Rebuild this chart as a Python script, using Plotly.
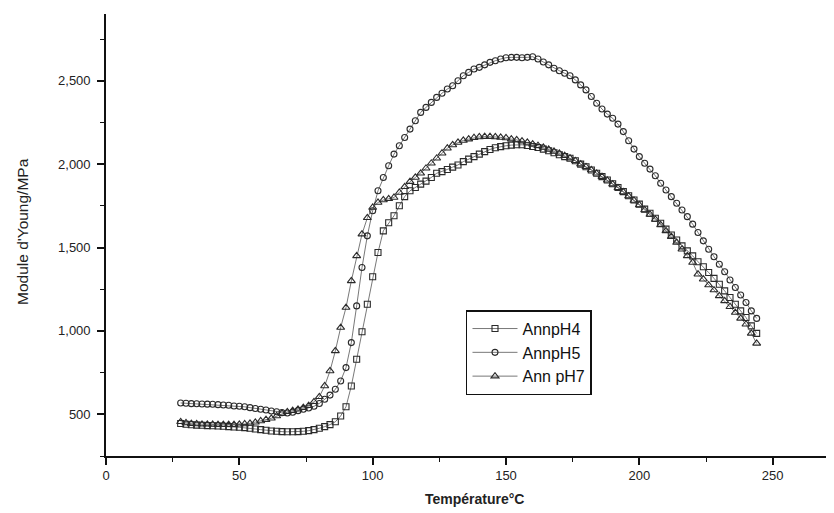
import plotly.graph_objects as go

temperature = [28, 30, 32, 34, 36, 38, 40, 42, 44, 46, 48, 50, 52, 54, 56, 58, 60, 62, 64, 66,
               68, 70, 72, 74, 76, 78, 80, 82, 84, 86, 88, 90, 92, 94, 96, 98, 100, 102, 104, 106,
               108, 110, 112, 114, 116, 118, 120, 122, 124, 126, 128, 130, 132, 134, 136, 138, 140, 142, 144, 146,
               148, 150, 152, 154, 156, 158, 160, 162, 164, 166, 168, 170, 172, 174, 176, 178, 180, 182, 184, 186,
               188, 190, 192, 194, 196, 198, 200, 202, 204, 206, 208, 210, 212, 214, 216, 218, 220, 222, 224, 226,
               228, 230, 232, 234, 236, 238, 240, 242, 244]

ann_ph4 = [445, 440, 437, 435, 434, 432, 431, 430, 428, 426, 424, 422, 420, 416, 412, 408, 404, 400, 398, 396,
           395, 395, 396, 398, 402, 408, 416, 426, 438, 455, 490, 545, 670, 830, 995, 1160, 1325, 1470, 1600, 1648,
           1690, 1750, 1805, 1840, 1860, 1880, 1898, 1920, 1945, 1955, 1968, 1982, 1995, 2015, 2030, 2045, 2060, 2075, 2088, 2098,
           2105, 2110, 2114, 2116, 2116, 2112, 2106, 2100, 2090, 2080, 2068, 2056, 2045, 2035, 2020, 2000, 1984, 1965, 1945, 1925,
           1905, 1882, 1860, 1835, 1810, 1785, 1760, 1730, 1705, 1675, 1645, 1610, 1575, 1545, 1510, 1480, 1450, 1415, 1385, 1350,
           1315, 1280, 1240, 1200, 1160, 1120, 1080, 1030, 985]

ann_ph5 = [568, 566, 564, 563, 562, 561, 560, 558, 556, 554, 550, 548, 545, 540, 535, 530, 526, 520, 515, 510,
           508, 512, 522, 530, 538, 548, 565, 590, 615, 650, 700, 780, 930, 1150, 1380, 1570, 1720, 1840, 1920, 1990,
           2060, 2110, 2160, 2210, 2260, 2310, 2340, 2370, 2400, 2425, 2450, 2470, 2500, 2530, 2550, 2570, 2580, 2595, 2610, 2620,
           2630, 2638, 2640, 2640, 2638, 2640, 2644, 2630, 2612, 2595, 2575, 2560, 2545, 2530, 2505, 2475, 2445, 2405, 2365, 2330,
           2300, 2275, 2240, 2195, 2140, 2090, 2045, 2005, 1970, 1930, 1885, 1845, 1805, 1765, 1725, 1685, 1640, 1590, 1540, 1490,
           1445, 1400, 1355, 1305, 1260, 1215, 1170, 1120, 1075]

ann_ph7 = [455, 448, 444, 442, 440, 440, 439, 438, 438, 438, 438, 440, 442, 446, 452, 460, 468, 476, 490, 505,
           515, 522, 530, 540, 552, 575, 605, 670, 760, 880, 1020, 1140, 1300, 1450, 1580, 1678, 1740, 1770, 1785, 1792,
           1800, 1830, 1864, 1895, 1920, 1945, 1975, 2005, 2035, 2065, 2095, 2115, 2130, 2142, 2150, 2158, 2163, 2165, 2165, 2163,
           2160, 2157, 2150, 2145, 2138, 2130, 2120, 2110, 2100, 2088, 2076, 2064, 2050, 2036, 2020, 2000, 1984, 1965, 1945, 1925,
           1903, 1880, 1858, 1833, 1808, 1782, 1755, 1725, 1698, 1668, 1636, 1600, 1565, 1530, 1490, 1450, 1410, 1340, 1310, 1275,
           1245, 1210, 1180, 1145, 1110, 1075, 1040, 985, 925]

series_names = ["AnnpH4", "AnnpH5", "Ann pH7"]
series_values = [ann_ph4, ann_ph5, ann_ph7]
symbols = ["square-open", "circle-open", "triangle-up-open"]
sizes = [6, 6, 7]

x_tick_vals = [0, 50, 100, 150, 200, 250]
y_tick_vals = [500, 1000, 1500, 2000, 2500]

fig = go.Figure()
for name, vals, sym, sz in zip(series_names, series_values, symbols, sizes):
    fig.add_trace(go.Scatter(
        x=temperature, y=vals, name=name, mode="lines+markers",
        line=dict(color="#555555", width=0.8),
        marker=dict(symbol=sym, size=sz, color="#2a2a2a", line=dict(width=1.1, color="#2a2a2a")),
    ))

FONT = "Liberation Sans, Arial, sans-serif"
axis_font = dict(family=FONT, size=13, color="#222222")

fig.update_layout(
    width=826, height=505,
    margin=dict(l=98, r=0, t=6, b=57),
    paper_bgcolor="white", plot_bgcolor="white",
    font=axis_font,
    showlegend=True,
    legend=dict(
        x=0.4945, y=0.33, xanchor="left", yanchor="top",
        bgcolor="white", bordercolor="#111111", borderwidth=1.5,
        font=dict(family=FONT, size=16, color="#111111"),
        tracegroupgap=0, itemwidth=45,
    ),
    annotations=[
        dict(text="Température°C", xref="paper", yref="paper", x=0.5055, y=-0.0973,
             xanchor="center", yanchor="middle", showarrow=False,
             font=dict(family=FONT, size=14, color="#222222", weight="bold")),
        dict(text="Module d'Young/MPa", xref="paper", yref="paper", x=-0.1154, y=0.509,
             xanchor="center", yanchor="middle", showarrow=False, textangle=-90,
             font=dict(family=FONT, size=15.5, color="#222222")),
    ],
)

fig.update_xaxes(
    range=[0, 273], showgrid=False, zeroline=False, automargin=False,
    showline=True, linecolor="#111111", linewidth=1.6,
    tickmode="array", tickvals=x_tick_vals,
    ticks="outside", ticklen=7, tickwidth=1.5, tickcolor="#111111",
    minor=dict(dtick=25, tick0=0, ticks="outside", ticklen=4, tickwidth=1.2, tickcolor="#111111"),
    tickfont=axis_font,
)

fig.update_yaxes(
    range=[250, 2900], showgrid=False, zeroline=False, automargin=False,
    showline=True, linecolor="#111111", linewidth=1.6,
    tickmode="array", tickvals=y_tick_vals, tickformat=",d",
    ticks="outside", ticklen=7, tickwidth=1.5, tickcolor="#111111",
    minor=dict(dtick=250, tick0=250, ticks="outside", ticklen=4, tickwidth=1.2, tickcolor="#111111"),
    tickfont=axis_font, ticklabelstandoff=4,
)

fig.write_html("out.html")
